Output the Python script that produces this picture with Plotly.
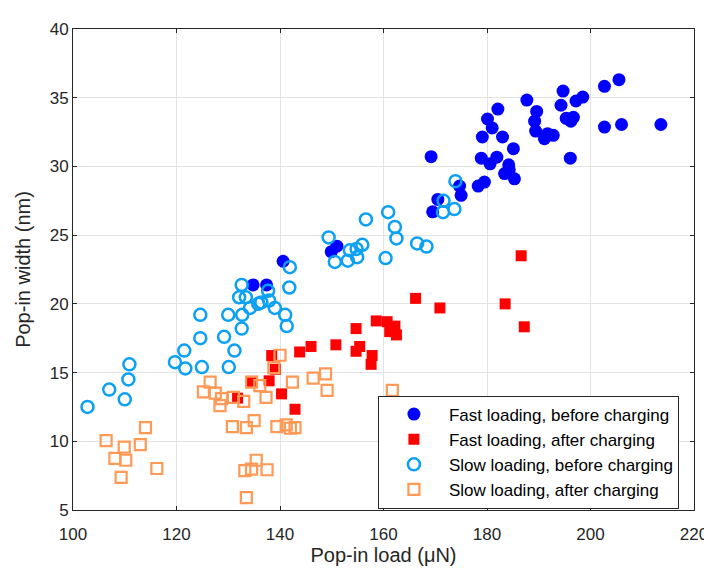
import plotly.graph_objects as go

fast_before_x = [134.8, 137.4, 140.6, 149.9, 151.0, 169.5, 170.5, 169.2, 174.7, 175.0, 178.3, 179.5,
                 178.9, 180.6, 181.9, 179.1, 181.0, 180.1, 182.1, 183.0, 185.1, 184.2, 183.4, 185.3,
                 184.3, 187.7, 189.6, 189.2, 189.4, 191.1, 191.7, 192.8, 194.3, 194.7, 195.3, 196.7,
                 196.2, 196.1, 197.2, 198.5, 202.7, 205.5, 202.7, 206.0, 213.6]
fast_before_y = [21.38, 21.38, 23.1, 23.8, 24.2, 26.7, 27.6, 30.71, 28.57, 27.9, 28.57, 28.86,
                 30.6, 30.19, 30.67, 32.14, 32.8, 33.45, 34.17, 32.14, 31.29, 30.12, 29.48, 29.1,
                 29.76, 34.83, 34.0, 33.29, 32.57, 32.02, 32.38, 32.26, 34.45, 35.48, 33.5, 33.57,
                 33.29, 30.6, 34.76, 35.05, 35.83, 36.31, 32.86, 33.05, 33.05]

fast_after_x = [131.8, 134.5, 137.9, 138.4, 139.1, 140.3, 142.9, 143.8, 146.0, 150.8, 154.7, 155.4,
                154.7, 157.8, 157.6, 158.6, 160.7, 162.2, 161.2, 162.5, 166.2, 170.9, 183.5, 186.6, 187.2]
fast_after_y = [13.14, 14.36, 14.4, 16.24, 15.24, 13.45, 12.33, 16.5, 16.9, 17.02, 18.2, 16.9,
                16.55, 16.24, 15.6, 18.76, 18.7, 18.38, 17.98, 17.74, 20.4, 19.7, 20.0, 23.5, 18.33]

slow_before_x = [102.8, 107.0, 110.0, 110.7, 110.9, 119.7, 121.5, 121.7, 124.6, 124.6, 124.9, 129.2,
                 130.0, 130.1, 131.2, 132.6, 132.7, 132.1, 133.4, 132.6, 134.2, 135.8, 136.4, 137.9,
                 137.7, 139.0, 141.0, 141.3, 141.8, 141.9, 149.4, 150.6, 153.1, 153.5, 154.8, 155.9,
                 154.9, 156.6, 160.4, 160.9, 162.2, 162.5, 166.5, 168.3, 171.6, 171.5, 173.7, 173.9]
slow_before_y = [12.5, 13.76, 13.05, 14.5, 15.6, 15.76, 16.6, 15.3, 17.5, 19.2, 15.4, 17.6,
                 19.2, 15.4, 16.6, 18.2, 19.2, 20.48, 20.48, 21.38, 19.7, 20.0, 20.1, 20.24,
                 20.95, 19.7, 19.2, 18.38, 21.19, 22.67, 24.83, 23.05, 23.14, 23.9, 24.0, 24.3,
                 23.4, 26.14, 23.33, 26.67, 25.6, 24.76, 24.4, 24.17, 27.5, 26.67, 26.9, 28.93]

slow_after_x = [106.4, 108.1, 109.3, 109.9, 110.2, 113.0, 114.0, 116.2, 125.2, 126.5, 127.5, 128.4,
                128.7, 130.8, 131.0, 133.0, 133.2, 133.5, 133.5, 134.5, 134.5, 135.0, 135.4, 136.1,
                137.3, 137.5, 138.8, 139.4, 140.0, 141.2, 142.0, 142.9, 142.4, 146.4, 148.8, 149.1, 161.7]
slow_after_y = [10.05, 8.76, 7.38, 9.57, 8.62, 9.76, 11.0, 8.02, 13.6, 14.3, 13.5, 12.6,
                13.1, 11.07, 13.2, 12.9, 7.86, 11.0, 5.9, 14.3, 7.98, 11.5, 8.62, 14.05,
                13.2, 7.93, 15.36, 11.07, 16.26, 11.2, 10.95, 11.0, 14.3, 14.6, 14.9, 13.7, 13.7]

series_names = ["Fast loading, before charging", "Fast loading, after charging",
                "Slow loading, before charging", "Slow loading, after charging"]

x_ticks = [100, 120, 140, 160, 180, 200, 220]
y_ticks = [5, 10, 15, 20, 25, 30, 35, 40]

fig = go.Figure()
fig.add_trace(go.Scatter(x=fast_before_x, y=fast_before_y, mode="markers", name=series_names[0],
                         marker=dict(symbol="circle", size=13, color="#0000FF", line=dict(width=0))))
fig.add_trace(go.Scatter(x=fast_after_x, y=fast_after_y, mode="markers", name=series_names[1],
                         marker=dict(symbol="square", size=11, color="#FF0000", line=dict(width=0))))
fig.add_trace(go.Scatter(x=slow_before_x, y=slow_before_y, mode="markers", name=series_names[2],
                         marker=dict(symbol="circle-open", size=12, color="#0AA0F5", line=dict(width=2.5))))
fig.add_trace(go.Scatter(x=slow_after_x, y=slow_after_y, mode="markers", name=series_names[3],
                         marker=dict(symbol="square-open", size=11, color="#FF9955", line=dict(width=2.2))))

axis_common = dict(showline=True, linecolor="#262626", linewidth=1, mirror="ticks",
                   ticks="inside", ticklen=4, tickcolor="#262626",
                   showgrid=True, gridcolor="#E3E3E3", gridwidth=1, zeroline=False,
                   tickfont=dict(family="Liberation Sans, Arial", size=17, color="#262626"))

fig.update_layout(
    width=712, height=570,
    margin=dict(l=65, r=25, t=12, b=68),
    paper_bgcolor="white", plot_bgcolor="white",
    font=dict(family="Liberation Sans, Arial", color="#262626"),
    xaxis=dict(range=[100, 220], tickvals=x_ticks, ticklabelstandoff=9,
               title=dict(text="Pop-in load (μN)", font=dict(size=20), standoff=0), **axis_common),
    yaxis=dict(range=[5, 40], tickvals=y_ticks,
               title=dict(text="Pop-in width (nm)", font=dict(size=20), standoff=13), **axis_common),
    legend=dict(x=0.491, y=0.238, xanchor="left", yanchor="top",
                bordercolor="#262626", borderwidth=1, bgcolor="white",
                font=dict(size=17, color="#000000"), itemwidth=60),
    showlegend=True,
)

fig.write_html("out.html")
